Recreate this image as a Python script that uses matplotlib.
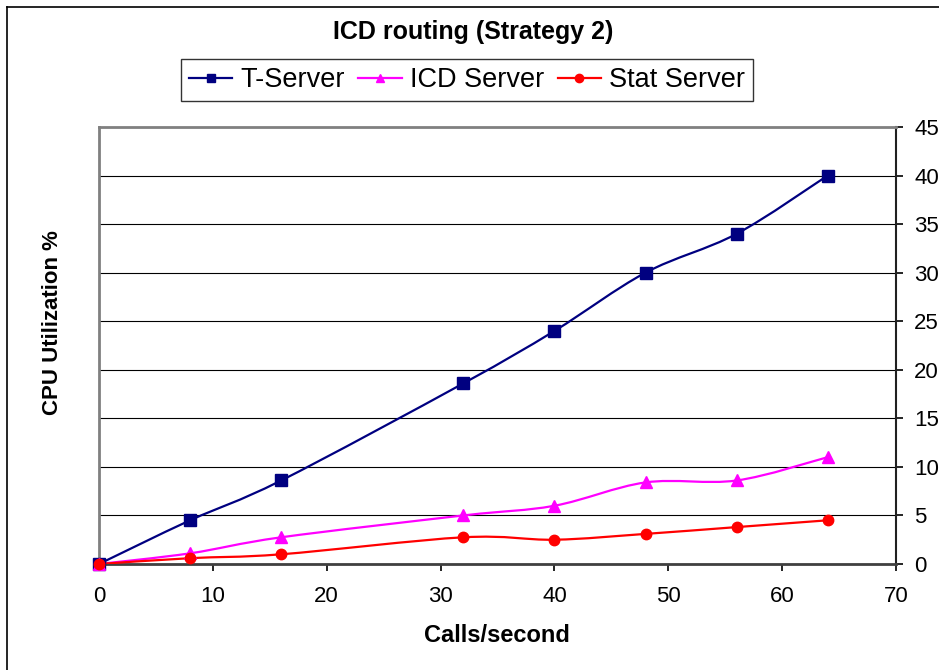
import matplotlib
matplotlib.use("Agg")
import matplotlib.pyplot as plt
from matplotlib.path import Path
from matplotlib.patches import PathPatch
from matplotlib.lines import Line2D
import numpy as np

plt.rcParams['font.family'] = ['Liberation Sans', 'DejaVu Sans']

calls = [0, 8, 16, 32, 40, 48, 56, 64]
t_server = [0, 4.5, 8.6, 18.6, 24, 30, 34, 40]
icd_server = [0, 1.1, 2.75, 5, 6, 8.4, 8.6, 11]
stat_server = [0, 0.6, 1.0, 2.75, 2.5, 3.1, 3.8, 4.5]

series = [
    ("T-Server", t_server, "#000080", "s", 8),
    ("ICD Server", icd_server, "#FF00FF", "^", 8),
    ("Stat Server", stat_server, "#FF0000", "o", 7.5),
]


def smooth_path(x, y):
    # excel style smoothed line: cubic bezier through every point
    p = np.column_stack([x, y]).astype(float)
    n = len(p)
    verts = [p[0]]
    codes = [Path.MOVETO]
    for i in range(n - 1):
        p0 = p[i - 1] if i > 0 else p[i]
        p3 = p[i + 2] if i + 2 < n else p[i + 1]
        c1 = p[i] + (p[i + 1] - p0) / 6.0
        c2 = p[i + 1] - (p3 - p[i]) / 6.0
        verts += [c1, c2, p[i + 1]]
        codes += [Path.CURVE4] * 3
    return Path(verts, codes)


fig = plt.figure(figsize=(9.39, 6.70), dpi=100)
ax = fig.add_axes([99 / 939, 1 - 564 / 670, (896 - 99) / 939, (564 - 127) / 670])

handles = []
for name, vals, color, marker, ms in series:
    ax.add_patch(PathPatch(smooth_path(calls, vals), facecolor='none',
                           edgecolor=color, lw=1.6, zorder=3))
    ax.plot(calls, vals, linestyle='none', marker=marker, ms=ms,
            color=color, zorder=4, clip_on=False)
    handles.append(Line2D([], [], color=color, lw=1.6, marker=marker, ms=ms * 0.8))

ax.set_xlim(0, 70)
ax.set_ylim(0, 45)
ax.set_xticks(range(0, 71, 10))
ax.set_yticks(range(0, 46, 5))
ax.yaxis.tick_right()
ax.grid(axis='y', color='black', lw=0.8)
ax.set_axisbelow(True)

for side in ['left', 'top']:
    ax.spines[side].set_color('#808080')
    ax.spines[side].set_linewidth(2)
ax.spines['right'].set_color('#202020')
ax.spines['right'].set_linewidth(1.5)
ax.spines['bottom'].set_color('#404040')
ax.spines['bottom'].set_linewidth(2)

ax.tick_params(axis='y', which='both', direction='out', length=5, width=1.2,
               labelsize=16, pad=8, left=False, right=True)
ax.tick_params(axis='x', direction='out', length=5, width=1.2,
               labelsize=16, pad=11)

fig.text(0.504, 1 - 32 / 670, "ICD routing (Strategy 2)", ha='center', va='center',
         fontsize=18, fontweight='bold')
fig.text(497 / 939, 1 - 636 / 670, "Calls/second", ha='center', va='center',
         fontsize=17, fontweight='bold')
fig.text(53 / 939, 1 - 323 / 670, "CPU Utilization %", ha='center', va='center',
         rotation=90, fontsize=16, fontweight='bold')

leg = fig.legend(handles, [s[0] for s in series], loc='center', ncol=3,
                 bbox_to_anchor=(467 / 939, 1 - 80 / 670), fontsize=19.5,
                 frameon=True, fancybox=False, edgecolor='black',
                 handlelength=1.6, handletextpad=0.3, columnspacing=0.5,
                 borderpad=0.3)
leg.get_frame().set_linewidth(1.0)

# outer chart frame (cut off on the right and bottom)
fig.add_artist(Line2D([7 / 939, 1], [1 - 7 / 670, 1 - 7 / 670], color='black', lw=1.2))
fig.add_artist(Line2D([7 / 939, 7 / 939], [0, 1 - 7 / 670], color='black', lw=1.2))

fig.savefig("out.png", dpi=100)
